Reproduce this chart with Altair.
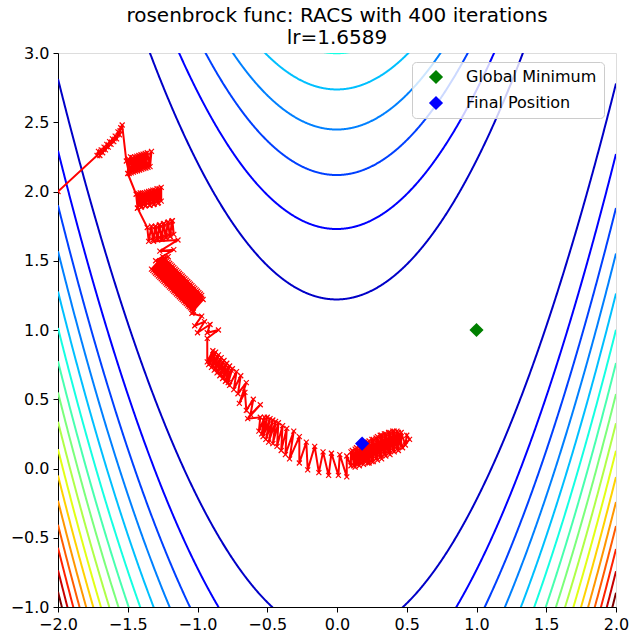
import numpy as np
import pandas as pd
import altair as alt

# ---------------- data ----------------
title_lines = ["rosenbrock func: RACS with 400 iterations", "lr=1.6589"]
contour_levels = [150, 300, 450, 600, 750, 900, 1050, 1200, 1350, 1500,
                  1650, 1800, 1950, 2100, 2250, 2400]
level_norm_max = 2400
x_ticks = [-2.0, -1.5, -1.0, -0.5, 0.0, 0.5, 1.0, 1.5, 2.0]
y_ticks = [-1.0, -0.5, 0.0, 0.5, 1.0, 1.5, 2.0, 2.5, 3.0]

marker_names = ["Global Minimum", "Final Position"]
marker_x = [1.0, 0.18]
marker_y = [1.0, 0.18]

seg_start = [(-2.00, 2.00), (-1.72, 2.26), (-1.71, 2.29), (-1.70, 2.26), (-1.69, 2.30),
             (-1.68, 2.28), (-1.67, 2.32), (-1.66, 2.30), (-1.65, 2.34), (-1.64, 2.32),
             (-1.63, 2.36), (-1.62, 2.34), (-1.61, 2.38), (-1.60, 2.36), (-1.59, 2.40),
             (-1.58, 2.38), (-1.57, 2.43), (-1.56, 2.41), (-1.55, 2.46), (-1.555, 2.44),
             (-1.54, 2.48)]
cluster_2 = [(-1.51, 2.22), (-1.49, 2.13), (-1.48, 2.25), (-1.46, 2.14), (-1.45, 2.25),
             (-1.43, 2.15), (-1.42, 2.26), (-1.40, 2.16), (-1.39, 2.27), (-1.37, 2.17),
             (-1.36, 2.28), (-1.34, 2.18), (-1.33, 2.29), (-1.355, 2.175), (-1.375, 2.275),
             (-1.385, 2.165), (-1.405, 2.265), (-1.415, 2.155), (-1.435, 2.255),
             (-1.445, 2.145), (-1.465, 2.245), (-1.475, 2.135), (-1.495, 2.235),
             (-1.50, 2.13)]
cluster_3 = [(-1.44, 1.98), (-1.43, 1.88), (-1.41, 1.99), (-1.40, 1.89), (-1.38, 1.99),
             (-1.37, 1.90), (-1.35, 2.00), (-1.34, 1.90), (-1.32, 2.01), (-1.31, 1.91),
             (-1.29, 2.02), (-1.28, 1.92), (-1.26, 2.03), (-1.26, 1.93), (-1.275, 2.02),
             (-1.285, 1.915), (-1.305, 2.01), (-1.315, 1.905), (-1.335, 2.005),
             (-1.345, 1.90), (-1.365, 1.995), (-1.375, 1.895), (-1.395, 1.99),
             (-1.405, 1.885), (-1.425, 1.985), (-1.43, 1.88)]
cluster_4 = [(-1.36, 1.74), (-1.35, 1.64), (-1.33, 1.75), (-1.32, 1.65), (-1.30, 1.75),
             (-1.29, 1.66), (-1.27, 1.76), (-1.26, 1.66), (-1.24, 1.77), (-1.23, 1.67),
             (-1.21, 1.78), (-1.20, 1.68), (-1.18, 1.79), (-1.17, 1.69), (-1.185, 1.785),
             (-1.195, 1.675), (-1.215, 1.775), (-1.225, 1.665), (-1.245, 1.765),
             (-1.255, 1.655), (-1.275, 1.755), (-1.285, 1.65), (-1.305, 1.745),
             (-1.315, 1.64), (-1.14, 1.65), (-1.27, 1.57), (-1.17, 1.58), (-1.30, 1.50),
             (-1.21, 1.53)]
cluster_5 = [(-1.33, 1.44), (-1.25, 1.53), (-1.31, 1.42), (-1.23, 1.51), (-1.29, 1.40),
             (-1.21, 1.49), (-1.27, 1.38), (-1.19, 1.47), (-1.25, 1.36), (-1.17, 1.45),
             (-1.23, 1.34), (-1.15, 1.43), (-1.21, 1.32), (-1.13, 1.41), (-1.19, 1.30),
             (-1.11, 1.39), (-1.17, 1.28), (-1.09, 1.37), (-1.15, 1.26), (-1.07, 1.35),
             (-1.13, 1.24), (-1.05, 1.33), (-1.11, 1.22), (-1.03, 1.31), (-1.09, 1.20),
             (-1.01, 1.29), (-1.07, 1.18), (-0.99, 1.27), (-1.05, 1.16), (-0.97, 1.25),
             (-1.03, 1.14), (-0.96, 1.22),
             (-1.04, 1.15), (-0.98, 1.26), (-1.06, 1.17), (-1.00, 1.28), (-1.08, 1.19),
             (-1.02, 1.30), (-1.10, 1.21), (-1.04, 1.32), (-1.12, 1.23), (-1.06, 1.34),
             (-1.14, 1.25), (-1.08, 1.36), (-1.16, 1.27), (-1.10, 1.38), (-1.18, 1.29),
             (-1.12, 1.40), (-1.20, 1.31), (-1.14, 1.42), (-1.22, 1.33), (-1.16, 1.44),
             (-1.24, 1.35), (-1.18, 1.46), (-1.26, 1.37), (-1.20, 1.48), (-1.28, 1.39),
             (-1.22, 1.50), (-1.30, 1.41), (-1.24, 1.52), (-1.32, 1.43), (-1.03, 1.13)]
tail_5 = [(-0.97, 1.23), (-1.04, 1.12), (-0.97, 1.10), (-1.02, 1.03), (-0.95, 1.06),
          (-1.00, 0.98), (-0.91, 1.04), (-0.93, 0.98), (-0.85, 1.00), (-0.93, 0.94)]
cluster_6 = [(-0.93, 0.77), (-0.89, 0.85), (-0.92, 0.75), (-0.87, 0.84), (-0.90, 0.73),
             (-0.85, 0.82), (-0.88, 0.71), (-0.83, 0.80), (-0.86, 0.69), (-0.81, 0.78),
             (-0.84, 0.67), (-0.79, 0.76), (-0.82, 0.65), (-0.77, 0.74), (-0.80, 0.63),
             (-0.75, 0.72), (-0.78, 0.62), (-0.76, 0.71), (-0.79, 0.64), (-0.78, 0.73),
             (-0.81, 0.66), (-0.80, 0.75), (-0.83, 0.68), (-0.82, 0.77), (-0.85, 0.70),
             (-0.84, 0.79), (-0.87, 0.72), (-0.86, 0.81), (-0.89, 0.74), (-0.88, 0.83),
             (-0.91, 0.76), (-0.77, 0.60), (-0.72, 0.70), (-0.74, 0.57), (-0.69, 0.67),
             (-0.71, 0.54), (-0.65, 0.62)]
tail_6 = [(-0.70, 0.47), (-0.66, 0.55), (-0.65, 0.42), (-0.60, 0.50), (-0.62, 0.39),
          (-0.55, 0.46), (-0.64, 0.36), (-0.55, 0.37)]
cluster_7 = [(-0.56, 0.27), (-0.52, 0.37), (-0.54, 0.25), (-0.50, 0.37), (-0.53, 0.23),
             (-0.48, 0.36), (-0.51, 0.21), (-0.46, 0.35), (-0.49, 0.19), (-0.44, 0.34),
             (-0.46, 0.18), (-0.42, 0.33), (-0.43, 0.16), (-0.39, 0.31), (-0.40, 0.13),
             (-0.36, 0.29), (-0.37, 0.10), (-0.31, 0.27), (-0.34, 0.07), (-0.27, 0.23),
             (-0.27, 0.04), (-0.22, 0.19), (-0.21, -0.01), (-0.16, 0.16), (-0.13, -0.03),
             (-0.10, 0.12), (-0.06, -0.05), (-0.04, 0.11), (0.01, -0.05), (0.02, 0.10),
             (0.07, -0.06), (0.07, 0.09)]
cluster_final = [(0.10, 0.02), (0.10, 0.12), (0.13, 0.01), (0.13, 0.14), (0.16, 0.02),
                 (0.16, 0.16), (0.19, 0.03), (0.19, 0.18), (0.22, 0.04), (0.22, 0.19),
                 (0.25, 0.05), (0.25, 0.21), (0.28, 0.07), (0.28, 0.22), (0.31, 0.08),
                 (0.31, 0.24), (0.34, 0.10), (0.34, 0.25), (0.37, 0.11), (0.37, 0.26),
                 (0.40, 0.13), (0.40, 0.27), (0.43, 0.14), (0.43, 0.27), (0.46, 0.16),
                 (0.46, 0.26), (0.49, 0.17), (0.50, 0.24), (0.52, 0.21), (0.47, 0.15),
                 (0.44, 0.26), (0.44, 0.13), (0.41, 0.27), (0.41, 0.12), (0.38, 0.26),
                 (0.38, 0.10), (0.35, 0.25), (0.35, 0.09), (0.32, 0.24), (0.32, 0.07),
                 (0.29, 0.23), (0.29, 0.06), (0.26, 0.21), (0.26, 0.05), (0.23, 0.20),
                 (0.23, 0.04), (0.20, 0.19), (0.20, 0.05), (0.17, 0.17), (0.17, 0.04),
                 (0.14, 0.15), (0.14, 0.03), (0.11, 0.13), (0.12, 0.02), (0.18, 0.18)]

path_segments = [seg_start, cluster_2, cluster_3, cluster_4, cluster_5, tail_5,
                 cluster_6, tail_6, cluster_7, cluster_final]

# ---------------- helpers ----------------
def jet(t):
    r = np.interp(t, [0, 0.35, 0.66, 0.89, 1.0], [0, 0, 1, 1, 0.5])
    g = np.interp(t, [0, 0.125, 0.375, 0.64, 0.91, 1.0], [0, 0, 1, 1, 0, 0])
    b = np.interp(t, [0, 0.11, 0.34, 0.65, 1.0], [0.5, 1, 1, 0, 0])
    return "#%02x%02x%02x" % (int(round(r * 255)), int(round(g * 255)), int(round(b * 255)))

level_colors = [jet(c / level_norm_max) for c in contour_levels]

# contour lines of the Rosenbrock function f = (1-x)^2 + 100 (y-x^2)^2
xs = np.linspace(-2, 2, 1201)
rows = []
for c in contour_levels:
    s = np.sqrt(np.clip((c - (1 - xs) ** 2) / 100.0, 0, None))
    for sign in (1, -1):
        ys = xs ** 2 + sign * s
        for xv, yv in zip(xs, ys):
            rows.append((c, f"{c}_{sign}", float(xv), float(yv)))
cdf = pd.DataFrame(rows, columns=["level", "key", "x", "y"])

pts = [p for seg in path_segments for p in seg]
pdf = pd.DataFrame({"step": np.arange(len(pts)),
                    "x": [p[0] for p in pts], "y": [p[1] for p in pts]})
mdf = pd.DataFrame({"name": marker_names, "x": marker_x, "y": marker_y})

# ---------------- chart ----------------
FONT = "DejaVu Sans"
xscale = alt.Scale(domain=[-2, 2], nice=False, zero=False)
yscale = alt.Scale(domain=[-1, 3], nice=False, zero=False)
axis_common = dict(format=".1f", title=None, grid=False, labelFontSize=16,
                   labelFont=FONT, labelColor="black", tickColor="black",
                   domainColor="black", tickSize=5, labelPadding=4, labelFlush=False)
xaxis = alt.Axis(values=x_ticks, **axis_common)
yaxis = alt.Axis(values=y_ticks, **axis_common)

contours = alt.Chart(cdf).mark_line(clip=True, strokeWidth=2).encode(
    x=alt.X("x:Q", scale=xscale, axis=xaxis),
    y=alt.Y("y:Q", scale=yscale, axis=yaxis),
    stroke=alt.Stroke("level:O", scale=alt.Scale(domain=contour_levels, range=level_colors),
                      legend=None),
    detail="key:N",
)

path_line = alt.Chart(pdf).mark_line(clip=True, color="red", strokeWidth=2).encode(
    x=alt.X("x:Q", scale=xscale), y=alt.Y("y:Q", scale=yscale), order="step:Q"
)
path_pts = alt.Chart(pdf).mark_point(
    clip=True, shape="M-1,-1L1,1M1,-1L-1,1", size=25, color="red", strokeWidth=1.2,
    filled=False, opacity=1
).encode(x=alt.X("x:Q", scale=xscale), y=alt.Y("y:Q", scale=yscale))

markers = alt.Chart(mdf).mark_point(shape="diamond", filled=True, size=200, opacity=1).encode(
    x=alt.X("x:Q", scale=xscale), y=alt.Y("y:Q", scale=yscale),
    fill=alt.Fill("name:N", scale=alt.Scale(domain=marker_names, range=["green", "blue"]),
                  legend=alt.Legend(title=None, orient="none", legendX=354, legendY=9,
                                    symbolType="diamond", symbolSize=200,
                                    labelFont=FONT, labelFontSize=16, labelColor="black",
                                    padding=7, rowPadding=10, symbolOffset=9, labelOffset=22,
                                    strokeColor="#cccccc", cornerRadius=4,
                                    fillColor="rgba(255,255,255,0.8)")),
)

chart = alt.layer(contours, path_line, path_pts, markers).properties(
    width=558, height=554,
    autosize=alt.AutoSizeParams(type="none"),
    padding={"left": 58, "top": 53, "right": 19, "bottom": 36},
    title=alt.TitleParams(text=title_lines, fontSize=20, font=FONT, fontWeight="normal",
                          anchor="middle", frame="group", offset=-3, lineHeight=22,
                          color="black"),
).configure_view(stroke="black", strokeWidth=1).configure(background="white")

chart.save("out.html", embed_options={"renderer": "svg", "actions": False})
